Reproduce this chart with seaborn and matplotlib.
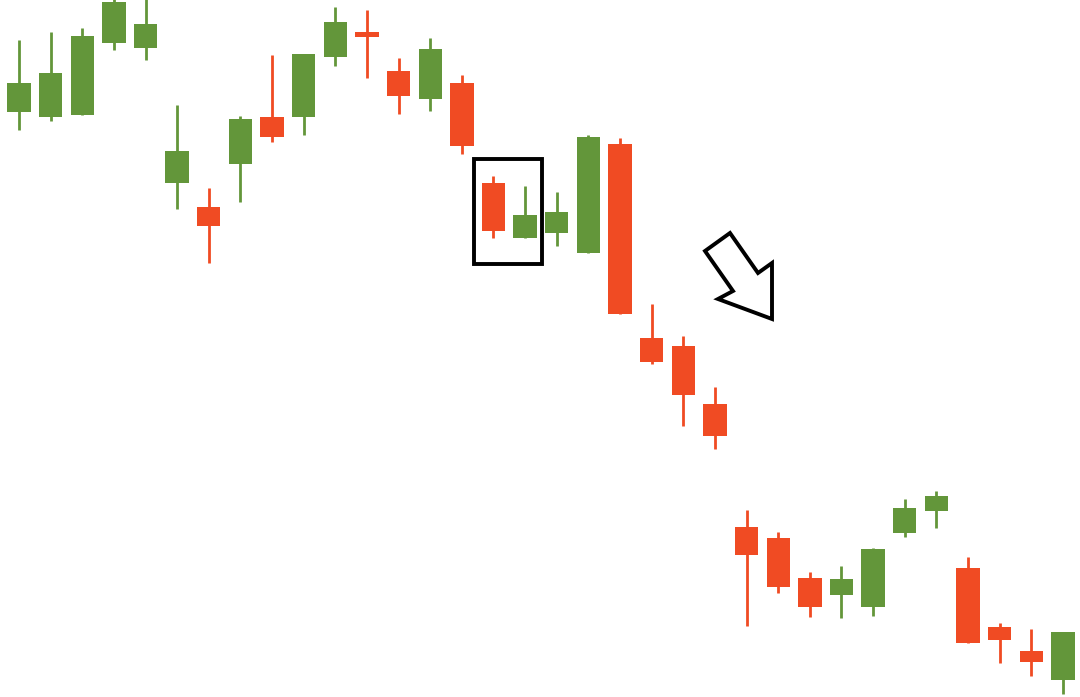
import numpy as np
import pandas as pd
import matplotlib
matplotlib.use("Agg")
import matplotlib.pyplot as plt
import seaborn as sns
from matplotlib.patches import Rectangle, Polygon

sns.set_style("white")

# OHLC values (arbitrary price units)
opens = [58.5, 58.0, 58.2, 65.4, 64.9, 51.4, 49.0, 53.3, 58.0, 58.0,
         64.0, 66.5, 62.6, 59.8, 61.4, 51.4, 45.9, 46.4, 44.4, 55.3,
         35.9, 35.1, 29.3, 17.0, 15.9, 11.9, 10.2, 9.0, 16.4, 18.6,
         12.9, 7.0, 4.6, 1.7]
highs = [65.7, 66.5, 66.9, 69.9, 69.9, 59.2, 50.9, 58.1, 64.2, 64.3,
         69.0, 68.7, 63.9, 65.9, 62.2, 52.1, 51.1, 50.5, 56.2, 55.9,
         39.3, 36.1, 31.0, 18.7, 16.5, 12.5, 13.1, 14.9, 19.8, 20.6,
         14.0, 7.4, 6.8, 6.5]
lows = [56.7, 57.6, 58.2, 64.7, 63.7, 48.8, 43.4, 49.5, 55.5, 56.2,
        63.1, 61.9, 58.3, 58.6, 54.3, 45.9, 45.9, 45.1, 44.4, 38.3,
        33.3, 27.1, 24.8, 7.1, 10.4, 8.0, 7.9, 8.1, 16.0, 16.9,
        5.4, 3.4, 2.1, 0.3]
closes = [61.4, 62.4, 66.1, 69.5, 67.3, 54.6, 47.1, 57.8, 56.0, 64.3,
          67.5, 66.0, 60.1, 64.8, 55.1, 46.6, 48.2, 48.5, 56.0, 38.3,
          33.5, 30.2, 26.1, 14.2, 11.0, 9.0, 11.8, 14.8, 18.9, 20.1,
          5.4, 5.7, 3.5, 6.5]

UP = "#63963a"
DOWN = "#f04b23"
BODY_W = 0.74

df = pd.DataFrame({"open": opens, "high": highs, "low": lows, "close": closes})
df["x"] = np.arange(len(df))
df["up"] = df["close"] >= df["open"]
df["color"] = np.where(df["up"], UP, DOWN)
df["bottom"] = df[["open", "close"]].min(axis=1)
df["height"] = (df["close"] - df["open"]).abs()

fig = plt.figure(figsize=(10.8, 6.97), dpi=100)
ax = fig.add_axes([0, 0, 1, 1])

# wicks
for _, r in df.iterrows():
    ax.plot([r["x"], r["x"]], [r["low"], r["high"]], color=r["color"],
            linewidth=2.0, solid_capstyle="butt", zorder=2)

# bodies
ax.bar(df["x"], df["height"], bottom=df["bottom"], width=BODY_W,
       color=df["color"], linewidth=0, zorder=3)

ax.set_xlim(-0.6, len(df) - 1 + 0.54)
ax.set_ylim(0, 69.7)
ax.axis("off")

# highlight box around the two-candle pattern
ax.add_patch(Rectangle((14.38, 43.3), 2.15, 10.5, fill=False,
                       edgecolor="black", linewidth=2.8, zorder=4))

# down arrow outline (axes fraction coordinates)
arrow_px = [(705, 251), (730, 233), (758, 273), (772, 263),
            (772, 319), (718, 299), (733, 291)]
arrow = [(px / 1080, 1 - py / 697) for px, py in arrow_px]
ax.add_patch(Polygon(arrow, closed=True, fill=False, edgecolor="black",
                     linewidth=2.8, joinstyle="miter", transform=ax.transAxes,
                     zorder=4))

fig.savefig("out.png", dpi=100, facecolor="white")
plt.close(fig)
